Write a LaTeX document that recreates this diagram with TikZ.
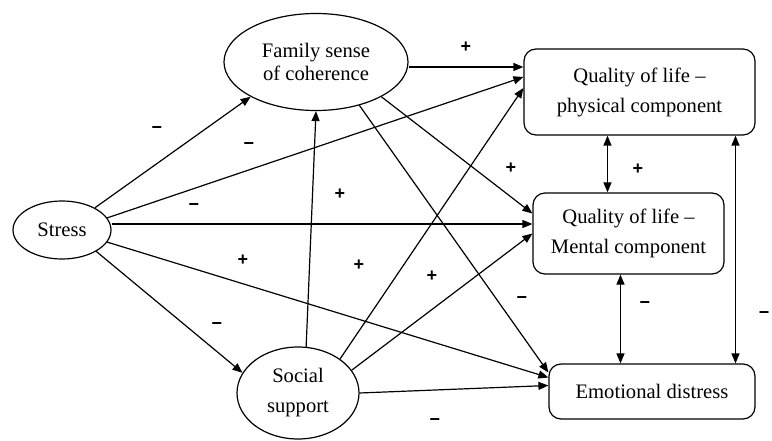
\documentclass[tikz,border=0pt]{standalone}
\usepackage{fontspec}
\setmainfont{Liberation Serif}
\newfontfamily\signfont{Liberation Sans}
\usepackage{tikz}
\usetikzlibrary{arrows.meta,positioning,shapes.geometric}
\tikzset{
  ar/.style={-{Triangle[length=5pt,width=4pt]},semithick},
  dar/.style={{Triangle[length=5pt,width=4pt]}-{Triangle[length=5pt,width=4pt]},semithick},
  oval/.style={draw,semithick,ellipse,align=center,inner sep=0pt},
  box/.style={draw,semithick,rounded corners=6pt,align=center,inner sep=0pt},
  sign/.style={font=\signfont\bfseries\fontsize{9}{10}\selectfont,inner sep=0pt}
}

\begin{document}
\begin{tikzpicture}[x=0.5pt,y=0.5pt,font=\fontsize{10.3}{11.5}\selectfont]
\useasboundingbox (0,0) rectangle (772,440);
\node[oval,minimum width=92pt,minimum height=48.5pt] (fam) at (316,378) {Family sense\\of coherence};
\node[oval,minimum width=49pt,minimum height=29pt] (stress) at (62,210) {Stress};
\node[oval,minimum width=61pt,minimum height=46pt] (soc) at (298,47) {Social\\[3.5pt]support};
\node[box,minimum width=115.5pt,minimum height=43pt] (phys) at (639.5,348) {Quality of life –\\[3.5pt]physical component};
\node[box,minimum width=95.5pt,minimum height=40.5pt] (ment) at (628.5,206.5) {Quality of life –\\[3.5pt]Mental component};
\node[box,minimum width=103pt,minimum height=27.5pt] (emo) at (652,48.5) {Emotional distress};
% paths out of stress
\coordinate (sm) at ([yshift=3pt]stress.east);
\draw[ar] (stress.34) -- (fam.208);
\draw[ar] (stress.15) -- ([yshift=7.5pt]phys.west);
\draw[ar] (sm) -- (sm -| ment.west);
\draw[ar] (stress.345) -- ([yshift=7pt]emo.west);
\draw[ar] (stress.328) -- (soc.160);
% paths out of family sense of coherence
\coordinate (fp) at ([yshift=-2.5pt]fam.east);
\draw[ar] (fp) -- (fp -| phys.west);
\draw[ar] (fam.332) -- ([yshift=10pt]ment.west);
\draw[ar] (fam.315) -- ([yshift=9.5pt]emo.west);
% paths out of social support
\draw[ar] (soc.80) -- (fam.south);
\draw[ar] (soc.39) -- ([yshift=2pt]phys.west);
\draw[ar] (soc.23) -- (ment.west);
\draw[ar] (soc.east) -- ([yshift=3pt]emo.west);
% correlations between outcomes
\coordinate (pm) at ([xshift=-16pt]phys.south);
\coordinate (me) at ([xshift=-4pt]ment.south);
\coordinate (pe) at ([xshift=48pt]phys.south);
\draw[dar] (pm) -- (pm |- ment.north);
\draw[dar] (me) -- (me |- emo.north);
\draw[dar] (pe) -- (pe |- emo.north);
% signs
\foreach \sx/\sy/\sg [count=\i] in {466/393/+,157/310/−,249/294/−,194/233/−,340/246/+,511/272/+,638/271/+,243/180/+,359/175/+,217/114/−,432/164/+,522/140/−,645/135/−,764/125/−,435/18/−}
  {\node[sign] (sg\i) at (\sx,\sy) {\sg};}
\end{tikzpicture}
\end{document}
